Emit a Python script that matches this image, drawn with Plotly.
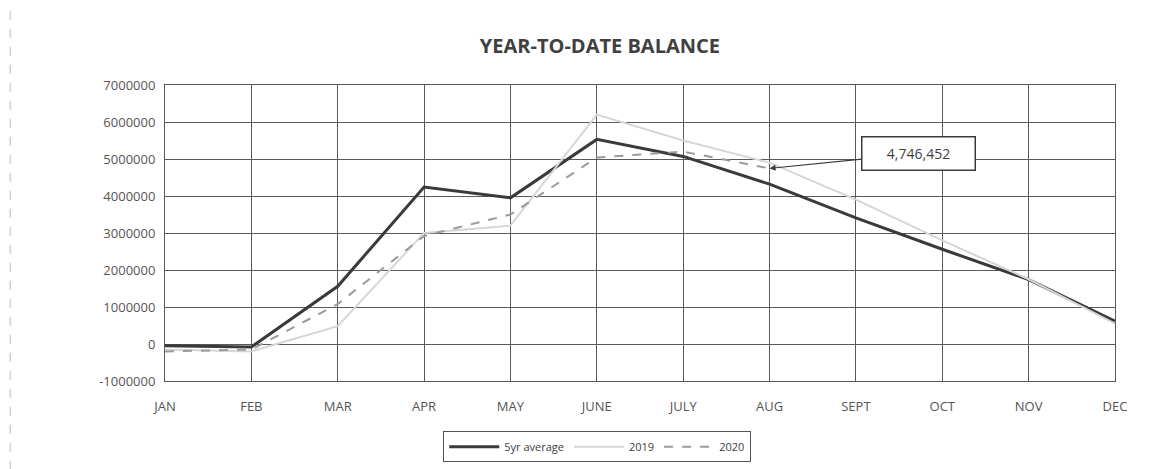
import plotly.graph_objects as go

months = ["JAN", "FEB", "MAR", "APR", "MAY", "JUNE", "JULY", "AUG", "SEPT", "OCT", "NOV", "DEC"]
avg_5yr = [-50000, -80000, 1560000, 4240000, 3950000, 5530000, 5070000, 4320000, 3410000, 2560000, 1740000, 620000]
y2019 = [-150000, -200000, 480000, 3000000, 3200000, 6200000, 5500000, 4900000, 3900000, 2800000, 1750000, 550000]
y2020 = [-200000, -150000, 1080000, 2920000, 3500000, 5040000, 5200000, 4746452]
y_ticks = [-1000000, 0, 1000000, 2000000, 3000000, 4000000, 5000000, 6000000, 7000000]
y_labels = ["-1000000", "0", "1000000", "2000000", "3000000", "4000000", "5000000", "6000000", "7000000"]
callout_text = "4,746,452"

fig = go.Figure()
fig.add_trace(go.Scatter(x=months, y=avg_5yr, name="5yr average", mode="lines",
                         line=dict(color="#3a3a3a", width=3)))
fig.add_trace(go.Scatter(x=months, y=y2019, name="2019", mode="lines",
                         line=dict(color="#d6d6d6", width=2)))
fig.add_trace(go.Scatter(x=months[:len(y2020)], y=y2020, name="2020", mode="lines",
                         line=dict(color="#9a9a9a", width=2, dash="dash")))

fig.add_annotation(x=months[len(y2020) - 1], y=y2020[-1], xref="x", yref="y",
                   text=callout_text, showarrow=True, arrowhead=2, arrowsize=1, arrowwidth=1.2,
                   arrowcolor="#3a3a3a", ax=149, ay=-15, axref="pixel", ayref="pixel",
                   width=104, height=24,
                   bordercolor="#3a3a3a", borderwidth=1.5, borderpad=4, bgcolor="white",
                   font=dict(family="Open Sans, Lato, sans-serif", size=14, color="#404040"))

fig.update_layout(
    width=1172, height=469,
    paper_bgcolor="white", plot_bgcolor="white",
    margin=dict(l=157, r=65, t=77, b=96),
    title=dict(text="<b>YEAR-TO-DATE BALANCE</b>", x=0.505, xanchor="center", y=0.92, yanchor="middle",
               font=dict(family="Open Sans, Lato, sans-serif", size=20, color="#404040")),
    font=dict(family="Open Sans, Lato, sans-serif", size=13, color="#555555"),
    showlegend=True,
    legend=dict(orientation="h", x=0.455, xanchor="center", y=-0.17, yanchor="top",
                bordercolor="#555555", borderwidth=1, bgcolor="white",
                font=dict(size=11, color="#404040"), itemwidth=50),
)
fig.update_xaxes(type="category", range=[0, 11], showgrid=True, gridcolor="#5a5a5a", gridwidth=1,
                 showline=True, linecolor="#5a5a5a", mirror=True, ticks="", tickfont=dict(size=13),
                 ticklabelstandoff=13)
fig.update_yaxes(range=[-1000000, 7000000], tickvals=y_ticks, ticktext=y_labels, showgrid=True,
                 gridcolor="#5a5a5a", gridwidth=1, showline=True, linecolor="#5a5a5a", mirror=True,
                 zeroline=False, ticks="", tickfont=dict(size=13), ticklabelstandoff=6)

# faint scanned page frame (left and top edges)
fig.add_shape(type="line", xref="paper", yref="paper", x0=-0.163, x1=-0.163, y0=-0.3, y1=1.3,
              line=dict(color="#bbbbbb", width=1, dash="dash"))
fig.add_shape(type="line", xref="paper", yref="paper", x0=-0.163, x1=1.1, y0=1.265, y1=1.265,
              line=dict(color="#c4c4c4", width=1, dash="dash"))

fig.write_html("out.html")
